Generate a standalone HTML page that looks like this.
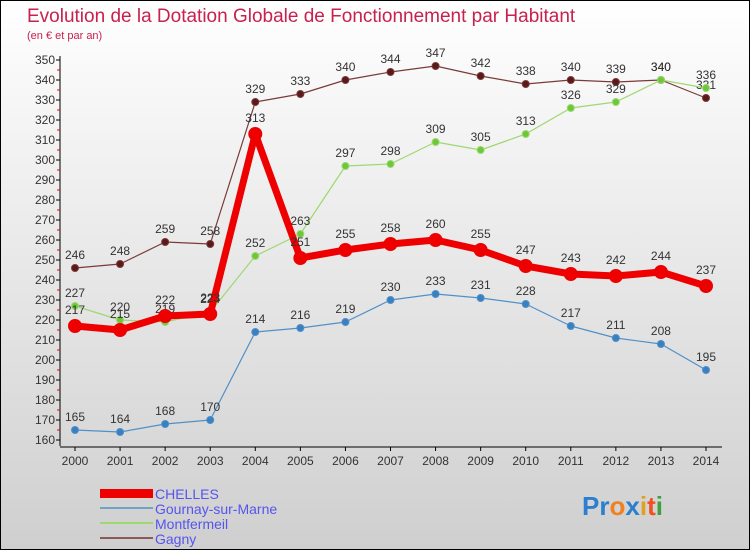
<!DOCTYPE html>
<html><head><meta charset="utf-8"><style>
body{margin:0}
#wrap{width:750px;height:550px;position:relative;overflow:hidden;font-family:"Liberation Sans",sans-serif}
</style></head><body>
<div id="wrap">
<svg id="svg" width="750" height="550" xmlns="http://www.w3.org/2000/svg">
<defs><linearGradient id="bg" x1="0" y1="0" x2="0" y2="1"><stop offset="0" stop-color="#ffffff"/><stop offset="1" stop-color="#cfcfcf"/></linearGradient></defs>
<rect x="0.5" y="0.5" width="749" height="549" fill="url(#bg)" stroke="#000"/>
<text x="27" y="22" font-size="19" fill="#c8204f">Evolution de la Dotation Globale de Fonctionnement par Habitant</text>
<text x="27" y="39" font-size="11" fill="#c8204f">(en € et par an)</text>
<g id="axes"></g><g id="series"></g>
<g>
<rect x="100" y="489" width="53" height="9" fill="#ee0000"/>
<text x="155" y="499" font-size="14" fill="#5555ee">CHELLES</text>
<rect x="100" y="507" width="53" height="2" fill="#6fa3c8"/>
<text x="155" y="514" font-size="14" fill="#5555ee">Gournay-sur-Marne</text>
<rect x="100" y="522" width="53" height="2" fill="#9ed870"/>
<text x="155" y="529" font-size="14" fill="#5555ee">Montfermeil</text>
<rect x="100" y="537" width="53" height="2" fill="#8a5a5a"/>
<text x="155" y="544" font-size="14" fill="#5555ee">Gagny</text>
</g>
<g font-size="26" font-weight="bold">
<text x="582" y="515"><tspan fill="#2a7fd0">Pr</tspan><tspan fill="#f08020">o</tspan><tspan fill="#2a7fd0">x</tspan><tspan fill="#e0a020">i</tspan><tspan fill="#f05020">t</tspan><tspan fill="#40a040">i</tspan></text>
</g>
</svg>
</div>
<script>
const years=[2000,2001,2002,2003,2004,2005,2006,2007,2008,2009,2010,2011,2012,2013,2014];
const yTicks=[160,170,180,190,200,210,220,230,240,250,260,270,280,290,300,310,320,330,340,350];
const chelles=[217,215,222,223,313,251,255,258,260,255,247,243,242,244,237];
const gournay=[165,164,168,170,214,216,219,230,233,231,228,217,211,208,195];
const montfermeil=[227,220,219,224,252,263,297,298,309,305,313,326,329,340,336];
const gagny=[246,248,259,258,329,333,340,344,347,342,338,340,339,340,331];
const NS="http://www.w3.org/2000/svg";
function X(i){return 75+i*(706-75)/(years.length-1);}
function Y(v){return 440-(v-160)*2;}
function mk(t,a,p){const e=document.createElementNS(NS,t);for(const k in a)e.setAttribute(k,a[k]);p.appendChild(e);return e;}
const ax=document.getElementById('axes');
const yl=mk('line',{x1:60,y1:Y(352),x2:60,y2:Y(157),stroke:'#000'},ax);


const xl=mk('line',{x1:60,y1:447,x2:722,y2:447,stroke:'#000'},ax);


yTicks.forEach(v=>{
 mk('line',{x1:56,y1:Y(v),x2:60,y2:Y(v),stroke:'#000'},ax);
 if(v<350)mk('line',{x1:57,y1:Y(v+5),x2:60,y2:Y(v+5),stroke:'#e00'},ax);
 const t=mk('text',{x:55,y:Y(v)+4,'text-anchor':'end','font-size':12,fill:'#333'},ax);
 t.textContent=v;
 
 
});
years.forEach((y,i)=>{
 mk('line',{x1:X(i),y1:447,x2:X(i),y2:451,stroke:'#000'},ax);
 const t=mk('text',{x:X(i),y:465,'text-anchor':'middle','font-size':12,fill:'#333'},ax);
 t.textContent=y;
 
 
});
const sg=document.getElementById('series');
function series(name,vals,color,dot,w,r,labelOffset){
 const g=mk('g',{},sg);
 
 
 const pts=vals.map((v,i)=>X(i)+','+Y(v)).join(' ');
 mk('polyline',{points:pts,fill:'none',stroke:color,'stroke-width':w,'stroke-linejoin':'round'},g);
 vals.forEach((v,i)=>{
  const c=mk('circle',{cx:X(i),cy:Y(v),r:r,fill:dot,stroke:color,'stroke-width':1},g);
  
  
  const t=mk('text',{x:X(i),y:Y(v)-labelOffset,'text-anchor':'middle','font-size':12,fill:'#333'},g);
  t.textContent=v;
  
  
 });
}
series('gagny',gagny,'#7a3a3a','#5a1a1a',1.2,3.5,9);
series('montfermeil',montfermeil,'#9ed870','#6cc83a',1.2,3.5,9);
series('gournay',gournay,'#5090c8','#3a80c0',1.2,3.5,9);
series('chelles',chelles,'#ee0000','#ee0000',7,6.5,12);
</script>
</body></html>
